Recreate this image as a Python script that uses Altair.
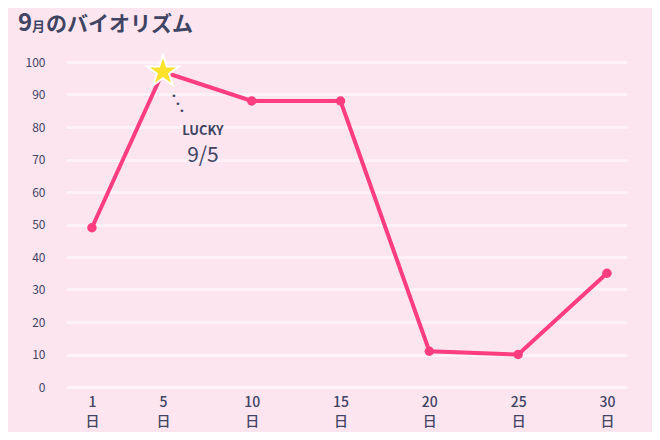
import altair as alt
import pandas as pd

# ---- data ----
days = [1, 5, 10, 15, 20, 25, 30]
values = [49, 97, 88, 88, 11, 10, 35]
lucky_day = 5
y_ticks = [0, 10, 20, 30, 40, 50, 60, 70, 80, 90, 100]
day_suffix = "日"
title_text = "9月のバイオリズム"
lucky_label = "LUCKY"
lucky_date = "9/5"

# ---- styles ----
BG = "#fde5f0"
NAVY = "#3f4463"
PINK = "#ff3d7f"
STAR_YELLOW = "#fde12b"
FONT = "Noto Sans CJK JP"
STAR_PATH = ("M0,-1L0.2245,-0.309L0.951,-0.309L0.363,0.118L0.588,0.809"
             "L0,0.382L-0.588,0.809L-0.363,0.118L-0.951,-0.309L-0.2245,-0.309Z")

df = pd.DataFrame({"day": days, "value": values})
df["lucky"] = df["day"] == lucky_day

x_enc = alt.X(
    "day:Q",
    scale=alt.Scale(domain=[-0.46, 31.13], nice=False, zero=False),
    axis=alt.Axis(
        values=days,
        labelExpr="[datum.label, '" + day_suffix + "']",
        grid=False, domain=False, ticks=False,
        labelFont=FONT, labelFontSize=14, labelFontWeight=500,
        labelColor=NAVY, labelPadding=8, labelLineHeight=19,
        labelBaseline="top", title=None,
    ),
)
y_enc = alt.Y(
    "value:Q",
    scale=alt.Scale(domain=[0, 100], nice=False),
    axis=alt.Axis(
        values=y_ticks, grid=True, gridColor="#ffffff", gridWidth=3,
        gridOpacity=0.5, domain=False, ticks=False, labelOverlap=False,
        labelFont=FONT, labelFontSize=12, labelColor=NAVY,
        labelPadding=21, title=None,
    ),
)

base = alt.Chart(df).encode(x=x_enc, y=y_enc)
line = base.mark_line(color=PINK, strokeWidth=4)
dots = base.transform_filter("!datum.lucky").mark_circle(
    color=PINK, size=90, opacity=1)
lucky_base = base.transform_filter("datum.lucky")
star = lucky_base.mark_point(
    shape=STAR_PATH, size=1130, filled=True, fill=STAR_YELLOW,
    stroke="#ffffff", strokeWidth=2, opacity=1,
)

dot_layers = []
for ddx, ddy in [(11, 24), (15, 32), (19, 39)]:
    dot_layers.append(
        lucky_base.mark_text(
            text="•", fontSize=9, color=NAVY, dx=ddx, dy=ddy, font="DejaVu Sans"
        )
    )
lucky_txt = lucky_base.mark_text(
    text=lucky_label, font=FONT, fontSize=13, fontWeight="bold", color=NAVY,
    dx=40, dy=59, baseline="middle",
)
date_txt = lucky_base.mark_text(
    text=lucky_date, font=FONT, fontSize=21, color=NAVY,
    dx=40, dy=84, baseline="middle",
)

# title pieces (drawn as text so the "9" can be larger)
title_df = pd.DataFrame({"t": [title_text]})
title_parts = [
    (title_text[0], -48, 24),
    (title_text[1], -34, 13),
    (title_text[2:], -20, 21),
]
title_layers = []
for txt, px, fs in title_parts:
    title_layers.append(
        alt.Chart(title_df).mark_text(
            text=txt, font=FONT, fontSize=fs, fontWeight="bold", color=NAVY,
            align="left", baseline="alphabetic",
        ).encode(x=alt.value(px), y=alt.value(-31))
    )

chart = alt.layer(line, dots, star, *dot_layers, lucky_txt, date_txt,
                  *title_layers).properties(
    width=561, height=325,
    autosize=alt.AutoSizeParams(type="none"),
    padding={"left": 58, "top": 54, "right": 25, "bottom": 45},
    background=BG,
).configure_view(stroke=None)

chart.save("out.html", embed_options={"renderer": "svg", "actions": False})
